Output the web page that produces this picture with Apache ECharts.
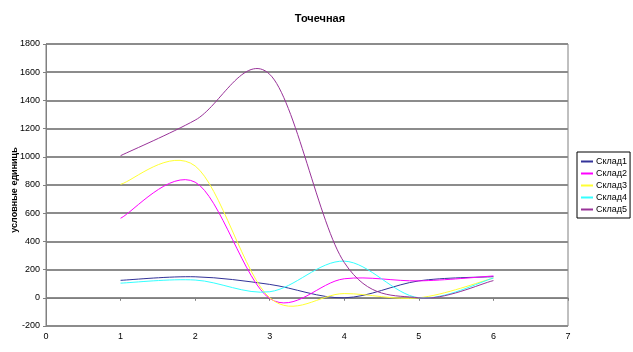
<!DOCTYPE html>
<html>
<head>
<meta charset="utf-8">
<script src="https://cdn.jsdelivr.net/npm/echarts@6/dist/echarts.min.js"></script>
<style>
  html, body { margin: 0; padding: 0; background: #fff; }
  #chart-container { width: 633px; height: 352px; }
</style>
</head>
<body>
<div id="chart-container"></div>
<script>
// month numbers and warehouse values
const months = [1, 2, 3, 4, 5, 6];
const seriesNames = ["Склад1", "Склад2", "Склад3", "Склад4", "Склад5"];
const sklad1 = [124, 149, 95, 0, 120, 150];
const sklad2 = [564, 820, -5, 135, 120, 155];
const sklad3 = [805, 935, 0, 30, 0, 140];
const sklad4 = [104, 126, 43, 260, 0, 140];
const sklad5 = [1008, 1260, 1585, 250, 0, 122];
const colors = ["#333399", "#ff00ff", "#ffff33", "#33ffff", "#993399"];

const font = "Liberation Sans";

/**
 * Smoothed line like the spreadsheet one: each segment is a cubic
 * Catmull-Rom piece, its ends taken from the axes via api.coord.
 */
function smoothSegment(vals, color) {
  return function (params, api) {
    const i = params.dataIndex;
    const n = months.length;
    if (i >= n - 1) return null;
    const pt = (k) => {
      const j = Math.max(0, Math.min(n - 1, k));
      return api.coord([months[j], vals[j]]);
    };
    const p0 = pt(i - 1), p1 = pt(i), p2 = pt(i + 1), p3 = pt(i + 2);
    return {
      type: "bezierCurve",
      shape: {
        x1: p1[0],
        y1: p1[1],
        x2: p2[0],
        y2: p2[1],
        cpx1: p1[0] + (p2[0] - p0[0]) / 6,
        cpy1: p1[1] + (p2[1] - p0[1]) / 6,
        cpx2: p2[0] - (p3[0] - p1[0]) / 6,
        cpy2: p2[1] - (p3[1] - p1[1]) / 6,
      },
      style: { stroke: color, fill: null, lineWidth: 1 },
    };
  };
}

function renderChart() {
  const dom = document.getElementById("chart-container");
  const chart = echarts.init(dom, null, { renderer: "canvas" });

  const allValues = [sklad1, sklad2, sklad3, sklad4, sklad5];
  const series = allValues.map((vals, i) => ({
    name: seriesNames[i],
    type: "custom",
    renderItem: smoothSegment(vals, colors[i]),
    itemStyle: { color: colors[i] },
    encode: { x: 0, y: 1 },
    clip: true,
    data: months.map((m, j) => [m, vals[j]]),
  }));

  const option = {
    animation: false,
    backgroundColor: "#fff",
    title: {
      text: "Точечная",
      left: 315,
      top: 8,
      textAlign: "center",
      textStyle: { fontFamily: font, fontSize: 11, fontWeight: "bold", color: "#000" },
    },
    legend: {
      orient: "vertical",
      left: 577,
      top: 152,
      padding: [5, 3, 4, 4],
      itemGap: 3,
      itemWidth: 12,
      itemHeight: 2,
      borderColor: "#000",
      borderWidth: 1,
      itemStyle: { borderWidth: 0 },
      textStyle: { fontFamily: font, fontSize: 9, color: "#000", padding: [0, 0, 0, -2] },
      data: seriesNames.map((name, i) => ({
        name,
        icon: "rect",
        itemStyle: { color: colors[i], borderWidth: 0 },
      })),
    },
    grid: {
      left: 46,
      right: 65,
      top: 44,
      bottom: 26,
      outerBoundsMode: "none",
      containLabel: false,
      show: true,
      borderColor: "#808080",
      borderWidth: 1,
      backgroundColor: "#fff",
    },
    xAxis: {
      type: "value",
      min: 0,
      max: 7,
      interval: 1,
      name: "номер месяца",
      nameLocation: "middle",
      nameGap: 40,
      nameMoveOverlap: false,
      nameTextStyle: { fontFamily: font, fontSize: 9, fontWeight: "bold", color: "#000" },
      axisLine: { onZero: true, lineStyle: { color: "#808080", width: 1 } },
      axisTick: { show: true, length: 3, lineStyle: { color: "#808080" } },
      axisLabel: { fontFamily: font, fontSize: 9, color: "#000", margin: 6 },
      splitLine: { show: false },
    },
    yAxis: {
      type: "value",
      min: -200,
      max: 1800,
      interval: 200,
      name: "условные единиць",
      nameLocation: "middle",
      nameRotate: 90,
      nameGap: 27,
      nameMoveOverlap: false,
      nameTextStyle: {
        fontFamily: font,
        fontSize: 9,
        fontWeight: "bold",
        color: "#000",
        padding: [0, 10, 0, 0],
      },
      axisLine: { show: true, lineStyle: { color: "#808080", width: 1 } },
      axisTick: { show: true, length: 3, lineStyle: { color: "#808080" } },
      axisLabel: {
        fontFamily: font,
        fontSize: 9,
        color: "#000",
        margin: 6,
        formatter: (v) => String(v),
      },
      splitLine: { show: true, lineStyle: { color: "#8c8c8c", width: 2 } },
    },
    series,
  };

  chart.setOption(option);
  return chart;
}

renderChart();
</script>
</body>
</html>
